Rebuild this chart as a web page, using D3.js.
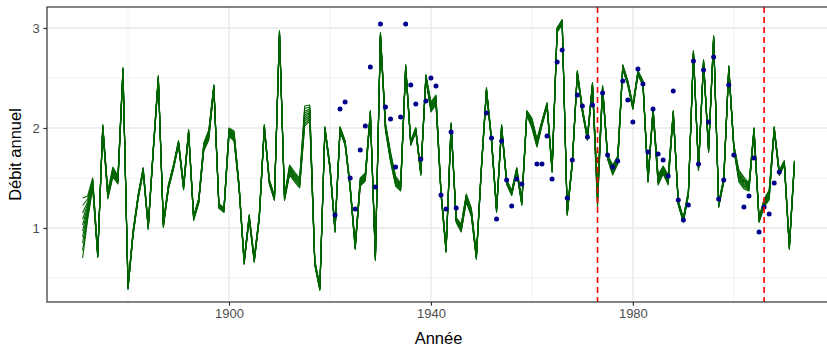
<!DOCTYPE html>
<html>
<head>
<meta charset="utf-8">
<script src="https://cdnjs.cloudflare.com/ajax/libs/d3/7.8.5/d3.min.js"></script>
<style>
  body { margin: 0; background: #fff; }
  svg { display: block; font-family: "Liberation Sans", Arial, sans-serif; }
</style>
</head>
<body>
<svg id="debit" width="827" height="347"></svg>
<script>
//////////////////////////////////////
//////////// DONNEES /////////////////
//////////////////////////////////////

var premiereAnnee = 1871;

// débit reconstitué (milieu du faisceau), 1871 -> 2012
var debitMoyen = [
  1.00, 1.20, 1.45, 0.73, 2.01, 1.33, 1.56, 1.48, 2.58,             // 1871-1879
  0.41, 0.95, 1.31, 1.58, 1.01, 1.78, 2.50, 1.03, 1.41, 1.61,       // 1880-1889
  1.85, 1.41, 1.96, 1.10, 1.27, 1.81, 1.93, 2.41, 1.22, 1.18,       // 1890-1899
  1.96, 1.92, 1.41, 0.66, 1.11, 0.68, 1.11, 2.01, 1.46, 1.30,       // 1900-1909
  2.95, 1.30, 1.58, 1.51, 1.45, 2.12, 2.15, 0.65, 0.40, 1.99,       // 1910-1919
  1.61, 0.98, 1.99, 1.85, 1.41, 0.81, 1.46, 1.51, 2.15, 0.70,       // 1920-1929
  2.93, 2.01, 1.71, 1.47, 1.41, 2.61, 1.85, 1.98, 1.55, 2.51,       // 1930-1939
  2.21, 2.28, 1.35, 0.78, 2.03, 1.08, 1.00, 1.30, 1.16, 0.71,       // 1940-1949
  1.60, 2.38, 1.88, 1.18, 2.01, 1.46, 1.35, 1.58, 1.25, 2.15,       // 1950-1959
  2.05, 1.85, 2.05, 2.23, 1.58, 2.98, 3.06, 1.15, 1.65, 2.55,       // 1960-1969
  2.18, 1.90, 2.43, 1.31, 2.40, 1.71, 1.58, 1.68, 2.61, 2.45,       // 1970-1979
  2.21, 2.55, 2.45, 1.48, 2.18, 1.48, 1.58, 1.48, 2.15, 1.25,       // 1980-1989
  1.08, 1.35, 2.75, 1.60, 2.66, 1.78, 2.90, 1.23, 1.48, 2.60,       // 1990-1999
  1.81, 1.52, 1.45, 1.41, 1.98, 1.08, 1.25, 1.33, 1.99, 1.55,       // 2000-2009
  1.65, 0.81, 1.65                                                  // 2010-2012
];

// demi-largeur du faisceau des membres
var ecartDefaut = 0.024;
var ecartAnnees = [1871, 1872, 1873, 1876, 1877, 1878, 1891, 1895, 1896, 1900, 1901,
                   1912, 1913, 1914, 1915, 1916, 1926, 1927, 1931, 1932, 1933, 1934,
                   1940, 1941, 1946, 1947, 1948, 1960, 1961, 1973, 1976, 1977,
                   1985, 1986, 1987, 2001, 2002, 2003, 2006, 2007];
var ecartValeurs = [0.30, 0.12, 0.05, 0.04, 0.05, 0.04, 0.03, 0.04, 0.05, 0.04, 0.05,
                    0.05, 0.05, 0.05, 0.10, 0.08, 0.04, 0.04, 0.04, 0.05, 0.05, 0.04,
                    0.05, 0.05, 0.04, 0.04, 0.04, 0.05, 0.04, 0.10, 0.05, 0.04,
                    0.05, 0.04, 0.05, 0.06, 0.06, 0.04, 0.04, 0.05];

// position relative de chaque membre dans le faisceau
var membres = [-1, -0.75, -0.5, -0.3, -0.1, 0.1, 0.3, 0.5, 0.75, 1];

// observations
var obsAnnees = [1921, 1922, 1923, 1924, 1925, 1926, 1927, 1928, 1929, 1930,
                 1931, 1932, 1933, 1934, 1935, 1936, 1937, 1938, 1939, 1940,
                 1941, 1942, 1943, 1944, 1945,
                 1951, 1952, 1953, 1954, 1955, 1956, 1957, 1958,
                 1961, 1962, 1963, 1964, 1965, 1966, 1967, 1968, 1969, 1970,
                 1971, 1972, 1974, 1975, 1976, 1977, 1978, 1979, 1980,
                 1981, 1982, 1983, 1984, 1985, 1986, 1987, 1988, 1989, 1990,
                 1991, 1992, 1993, 1994, 1995, 1996, 1997, 1998, 1999, 2000,
                 2002, 2003, 2004, 2005, 2006, 2007, 2008, 2009];
var obsDebit = [1.13, 2.19, 2.26, 1.50, 1.19, 1.78, 2.02, 2.61, 1.41, 3.04,
                2.21, 2.09, 1.61, 2.11, 3.04, 2.43, 2.24, 1.69, 2.27, 2.50,
                2.42, 1.33, 1.19, 1.96, 1.20,
                2.15, 1.90, 1.09, 1.87, 1.48, 1.22, 1.49, 1.44,
                1.64, 1.64, 1.92, 1.49, 2.66, 2.78, 1.30, 1.68, 2.33, 2.22,
                1.91, 2.23, 2.35, 1.73, 1.61, 1.67, 2.47, 2.28, 2.06,
                2.59, 2.44, 1.76, 2.19, 1.74, 1.68, 1.52, 2.37, 1.28, 1.08,
                1.23, 2.67, 1.64, 2.58, 2.06, 2.71, 1.29, 1.48, 2.43, 1.73,
                1.21, 1.32, 1.70, 0.96, 1.21, 1.14, 1.45, 1.56];

// ruptures
var ruptures = [1973, 2006];

var xTicks = [1900, 1940, 1980];
var xMinor = [1880, 1920, 1960, 2000];
var yTicks = [1, 2, 3];
var yMinor = [0.5, 1.5, 2.5];

//////////////////////////////////////
//////////// GRAPHIQUE ///////////////
//////////////////////////////////////

var svg = d3.select("#debit");
var panel = {left: 47, right: 830, top: 7, bottom: 302};

var x = d3.scaleLinear()
    .domain([1863.95, 2019.05])
    .range([panel.left, panel.right]);
var y = d3.scaleLinear()
    .domain([0.26, 3.21])
    .range([panel.bottom, panel.top]);

var g = svg.append("g");

// grille
g.selectAll(".ymin").data(yMinor).enter().append("line")
    .attr("x1", panel.left).attr("x2", panel.right)
    .attr("y1", function(d) { return y(d); }).attr("y2", function(d) { return y(d); })
    .attr("stroke", "#ebebeb").attr("stroke-width", 0.7);
g.selectAll(".xmin").data(xMinor).enter().append("line")
    .attr("y1", panel.top).attr("y2", panel.bottom)
    .attr("x1", function(d) { return x(d); }).attr("x2", function(d) { return x(d); })
    .attr("stroke", "#ebebeb").attr("stroke-width", 0.7);
g.selectAll(".ymaj").data(yTicks).enter().append("line")
    .attr("x1", panel.left).attr("x2", panel.right)
    .attr("y1", function(d) { return y(d); }).attr("y2", function(d) { return y(d); })
    .attr("stroke", "#e8e8e8").attr("stroke-width", 1.3);
g.selectAll(".xmaj").data(xTicks).enter().append("line")
    .attr("y1", panel.top).attr("y2", panel.bottom)
    .attr("x1", function(d) { return x(d); }).attr("x2", function(d) { return x(d); })
    .attr("stroke", "#e8e8e8").attr("stroke-width", 1.3);

// faisceau des membres
function ecart(annee) {
  var i = ecartAnnees.indexOf(annee);
  return i < 0 ? ecartDefaut : ecartValeurs[i];
}

var ligne = d3.line()
    .x(function(d) { return x(d.annee); })
    .y(function(d) { return y(d.debit); });

membres.forEach(function(k) {
  var serie = debitMoyen.map(function(v, i) {
    var annee = premiereAnnee + i;
    return {annee: annee, debit: v + k * ecart(annee)};
  });
  g.append("path")
      .datum(serie)
      .attr("d", ligne)
      .attr("fill", "none")
      .attr("stroke", "#006400")
      .attr("stroke-width", 1.1)
      .attr("stroke-linejoin", "round");
});

// observations
g.selectAll(".obs").data(obsAnnees).enter().append("circle")
    .attr("cx", function(d) { return x(d); })
    .attr("cy", function(d, i) { return y(obsDebit[i]); })
    .attr("r", 2.5)
    .attr("fill", "#00008b");

// ruptures
g.selectAll(".rupture").data(ruptures).enter().append("line")
    .attr("x1", function(d) { return x(d); }).attr("x2", function(d) { return x(d); })
    .attr("y1", panel.top).attr("y2", panel.bottom)
    .attr("stroke", "#ff0000").attr("stroke-width", 1.6)
    .attr("stroke-dasharray", "6,4");

// cadre
g.append("rect")
    .attr("x", panel.left).attr("y", panel.top)
    .attr("width", panel.right - panel.left).attr("height", panel.bottom - panel.top)
    .attr("fill", "none").attr("stroke", "#333333").attr("stroke-width", 1.2);

// axes
var xAxis = svg.append("g")
    .attr("transform", "translate(0," + panel.bottom + ")")
    .call(d3.axisBottom(x).tickValues(xTicks).tickFormat(d3.format("d")).tickSize(3.7).tickPadding(3));
var yAxis = svg.append("g")
    .attr("transform", "translate(" + panel.left + ",0)")
    .call(d3.axisLeft(y).tickValues(yTicks).tickFormat(d3.format("d")).tickSize(3.7).tickPadding(3.5));

[xAxis, yAxis].forEach(function(a) {
  a.select(".domain").remove();
  a.selectAll("line").attr("stroke", "#333333").attr("stroke-width", 1.2);
  a.selectAll("text").attr("fill", "#4d4d4d").style("font-size", "13px");
});

svg.append("text")
    .attr("x", (panel.left + panel.right) / 2)
    .attr("y", 344)
    .attr("text-anchor", "middle")
    .style("font-size", "16.5px")
    .text("Année");

svg.append("text")
    .attr("transform", "translate(21," + (panel.top + panel.bottom) / 2 + ") rotate(-90)")
    .attr("text-anchor", "middle")
    .style("font-size", "16.5px")
    .text("Débit annuel");
</script>
</body>
</html>
